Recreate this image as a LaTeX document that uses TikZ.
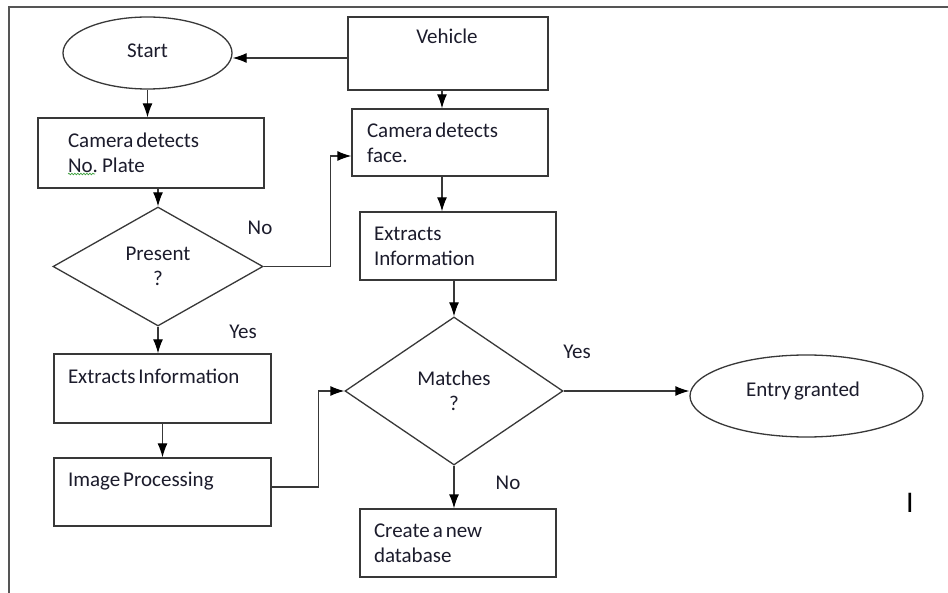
\documentclass[tikz,border=0pt]{standalone}
\usepackage{fontspec}
\setmainfont{Carlito}[WordSpace=0.6]
\usetikzlibrary{shapes.geometric,arrows.meta,calc,decorations.pathmorphing}
\definecolor{lc}{HTML}{383838}
\definecolor{tc}{HTML}{1C1C2C}
\definecolor{bordc}{HTML}{555555}
\definecolor{spellc}{HTML}{3CA03C}
\tikzset{
  txt/.style={font=\fontsize{21}{25}\selectfont, text=tc, execute at begin node={\spaceskip=0.14em\relax\xspaceskip=0.2em\relax}},
  box/.style={draw=lc, line width=1.3pt, rectangle, inner ysep=0pt, align=left, txt},
  oval/.style={draw=lc, line width=1.3pt, ellipse, inner sep=0pt, txt},
  decision/.style={draw=lc, line width=1.3pt, diamond, inner sep=0pt, align=center, txt},
  arr/.style={draw=lc, line width=1.3pt, -{Latex[length=14pt,width=10pt,black]}},
  lbl/.style={txt}
}
\begin{document}
\begin{tikzpicture}[x=1pt,y=-1pt]
\useasboundingbox (0,0) rectangle (948,593);
\fill[white] (0,0) rectangle (948,593);
% frame
\draw[bordc, line width=2pt] (9,593) -- (9,7) -- (948,7);

% nodes
\node[oval, minimum width=169pt, minimum height=72pt] (start) at (147.5,53) {\raisebox{4pt}{Start}};
\node[box, minimum width=200pt, minimum height=73pt] (veh) at (448,53.5) {};
\node[txt] (vehtxt) at (447,36) {Vehicle};
\node[box, inner xsep=30pt, text width=166pt, minimum height=70pt] (plate) at (151,153) {Camera detects\\No. Plate};
\node[box, inner xsep=15pt, text width=166pt, minimum height=67pt] (face) at (450,142.5) {Camera detects\\face.};
\node[decision, minimum width=210pt, minimum height=119pt] (present) at (158,266.5) {Present\\?};
\node[box, inner xsep=14pt, text width=168pt, minimum height=68pt] (exR) at (458,246) {Extracts\\Information};
\node[box, inner xsep=14pt, text width=189pt, minimum height=69pt] (exL) at (162.5,388.5) {Extracts Information\\\mbox{}};
\node[box, inner xsep=14pt, text width=189pt, minimum height=68pt] (img) at (162.5,492) {Image Processing\\\mbox{}};
\node[decision, minimum width=218pt, minimum height=148pt] (matches) at (454,391) {Matches\\?};
\node[oval, minimum width=233pt, minimum height=82pt] (entry) at (806.5,396) {};
\node[txt] (entrytxt) at (803,391) {Entry granted};
\node[box, inner xsep=14pt, text width=168pt, minimum height=68pt] (create) at (458,543) {Create a new\\database};

% spell-check underline under "No"
\coordinate (sqa) at (68,174);
\coordinate (sqb) at (95,174);
\draw[spellc, line width=0.7pt, decorate, decoration={snake, segment length=3pt, amplitude=0.8pt}] (sqa) -- (sqb);

% labels
\node[lbl] (lno1) at (260,228) {No};
\node[lbl] (lyes1) at (243,332) {Yes};
\node[lbl] (lyes2) at (577,352) {Yes};
\node[lbl] (lno2) at (508,483) {No};
\node[font=\fontsize{30}{30}\selectfont, text=black] (cursor) at (910,503) {I};

% connectors
\draw[arr] ([yshift=-4.5pt]veh.west) -- ([yshift=-5pt]start.east);
\draw[arr] (start.south) -- (start.south |- plate.north);
\draw[arr] (present.north |- plate.south) -- (present.north);
\draw[arr] (present.south) -- (present.south |- exL.north);
\draw[arr] (exL.south) -- (img.north);
\draw[arr] ([yshift=5pt]img.east) -- ++(47,0) |- (matches.west);
\draw[arr] (present.east) -- ++(67,0) |- ([yshift=-13.5pt]face.west);
\draw[arr] ([xshift=-6pt]veh.south) -- ([xshift=-6pt]veh.south |- face.north);
\draw[arr] ([xshift=-8pt]face.south) -- ([xshift=-8pt]face.south |- exR.north);
\draw[arr] (matches.north |- exR.south) -- (matches.north);
\draw[arr] (matches.east) -- (matches.east -| entry.west);
\draw[arr] (matches.south) -- (matches.south |- create.north);
\end{tikzpicture}
\end{document}
